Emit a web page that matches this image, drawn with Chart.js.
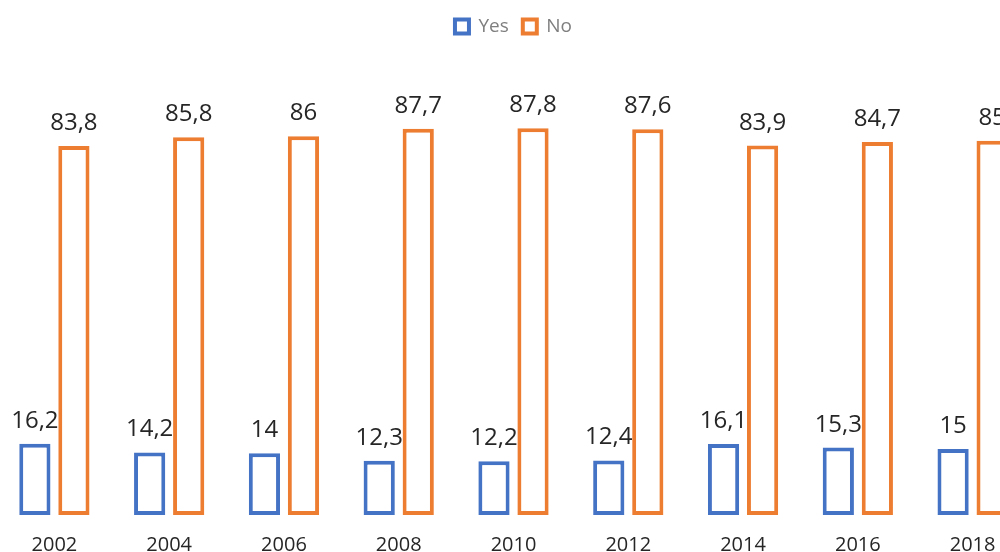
<!DOCTYPE html>
<html>
<head>
<meta charset="utf-8">
<script src="https://cdn.jsdelivr.net/npm/chart.js@4"></script>
<style>
  html, body { margin: 0; padding: 0; background: #fff; overflow: hidden; }
  #wrap { position: absolute; left: -3px; top: 0; width: 1033px; height: 567px; }
</style>
</head>
<body>
<div id="wrap"><canvas id="mychart" width="1033" height="567"></canvas></div>
<script>
// Dữ liệu
const years = ["2002", "2004", "2006", "2008", "2010", "2012", "2014", "2016", "2018"];
const yesValues = [16.2, 14.2, 14, 12.3, 12.2, 12.4, 16.1, 15.3, 15];
const noValues = [83.8, 85.8, 86, 87.7, 87.8, 87.6, 83.9, 84.7, 85];

const BLUE = "#4472c4";
const ORANGE = "#ed7d31";

// Nhãn giá trị phía trên cột
const valueLabels = {
  id: "valueLabels",
  afterDatasetsDraw(chart) {
    const c = chart.ctx;
    c.save();
    c.font = "24px 'Open Sans'";
    c.fillStyle = "#262626";
    c.textAlign = "center";
    c.textBaseline = "alphabetic";
    chart.data.datasets.forEach((ds, i) => {
      chart.getDatasetMeta(i).data.forEach((bar, j) => {
        const txt = String(ds.data[j]).replace(".", ",");
        c.fillText(txt, bar.x, bar.y - 16);
      });
    });
    c.restore();
  },
};

const ctx = document.getElementById("mychart").getContext("2d");
const mychart = new Chart(ctx, {
  type: "bar",
  data: {
    labels: years,
    datasets: [
      {
        label: "Yes",
        data: yesValues,
        backgroundColor: "#ffffff",
        borderColor: BLUE,
        borderWidth: 4,
        borderSkipped: false,
      },
      {
        label: "No",
        data: noValues,
        backgroundColor: "#ffffff",
        borderColor: ORANGE,
        borderWidth: 4,
        borderSkipped: false,
      },
    ],
  },
  options: {
    responsive: false,
    animation: false,
    categoryPercentage: 0.68,
    barPercentage: 0.8,
    layout: { padding: { top: 3, left: 0, right: 0, bottom: 0 } },
    plugins: {
      legend: {
        position: "top",
        labels: {
          boxWidth: 14,
          boxHeight: 14,
          padding: 14,
          color: "#7f7f7f",
          font: { family: "'Open Sans'", size: 19 },
        },
      },
      tooltip: { enabled: false },
    },
    scales: {
      x: {
        grid: { display: false },
        border: { display: false },
        ticks: {
          color: "#262626",
          padding: 10,
          font: { family: "'Open Sans'", size: 20 },
          maxRotation: 0,
        },
      },
      y: {
        display: false,
        min: 0,
        max: 106.5,
      },
    },
  },
  plugins: [valueLabels],
});
</script>
</body>
</html>
